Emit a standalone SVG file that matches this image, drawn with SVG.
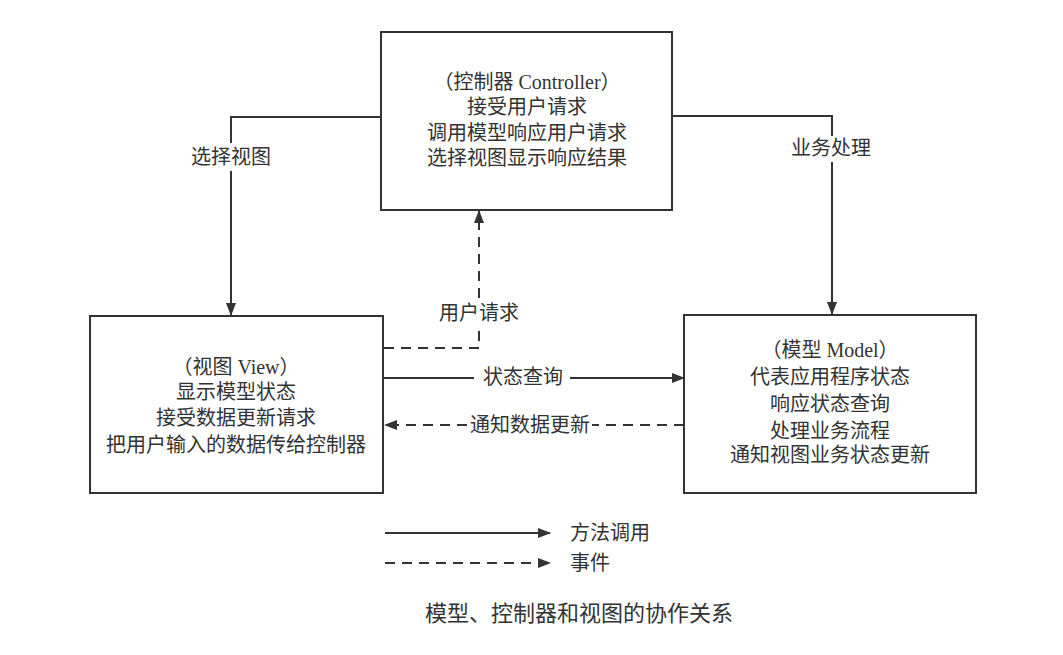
<svg xmlns="http://www.w3.org/2000/svg" width="1063" height="655" viewBox="0 0 1063 655">
<defs>
<style>
.box{fill:#fff;stroke:#333;stroke-width:2}
.ln{fill:none;stroke:#333;stroke-width:2}
.dash{stroke-dasharray:10 7}
text{font-family:"Liberation Serif","Noto Sans CJK SC",serif;font-size:20px;fill:#333;text-anchor:middle}
.lg{text-anchor:start}
.cap{font-size:22px}
</style>
<marker id="ah" markerUnits="userSpaceOnUse" markerWidth="13" markerHeight="10" refX="12" refY="5" orient="auto">
<path d="M0,0 L13,5 L0,10 z" fill="#333"/>
</marker>
</defs>
<rect width="1063" height="655" fill="#fff"/>
<g id="connectors">
<path class="ln" d="M381,117 H231 V143"/>
<path class="ln" d="M231,171 V315" marker-end="url(#ah)"/>
<path class="ln" d="M672,116 H832 V136"/>
<path class="ln" d="M832,162 V314" marker-end="url(#ah)"/>
<path class="ln dash" d="M384,348 H479 V327"/>
<path class="ln dash" d="M479,298 V211" marker-end="url(#ah)"/>
<path class="ln" d="M384,378 H474"/>
<path class="ln" d="M570,378 H684" marker-end="url(#ah)"/>
<path class="ln dash" d="M684,425 H592"/>
<path class="ln dash" d="M467,425 H385" marker-end="url(#ah)"/>
<text x="231" y="164">选择视图</text>
<text x="831" y="155">业务处理</text>
<text x="479" y="320">用户请求</text>
<text x="523" y="384">状态查询</text>
<text x="530" y="432">通知数据更新</text>
</g>
<g id="controller">
<rect class="box" x="381" y="32" width="291" height="178"/>
<text x="527" y="89">（控制器 Controller）</text>
<text x="527" y="114">接受用户请求</text>
<text x="527" y="140">调用模型响应用户请求</text>
<text x="527" y="165">选择视图显示响应结果</text>
</g>
<g id="view">
<rect class="box" x="90" y="316" width="293" height="177"/>
<text x="236" y="374">（视图 View）</text>
<text x="236" y="399">显示模型状态</text>
<text x="236" y="425">接受数据更新请求</text>
<text x="236" y="452">把用户输入的数据传给控制器</text>
</g>
<g id="model">
<rect class="box" x="684" y="315" width="292" height="178"/>
<text x="830" y="357">（模型 Model）</text>
<text x="830" y="384">代表应用程序状态</text>
<text x="830" y="411">响应状态查询</text>
<text x="830" y="438">处理业务流程</text>
<text x="830" y="462">通知视图业务状态更新</text>
</g>
<g id="legend">
<path class="ln" d="M385,533 H550" marker-end="url(#ah)"/>
<text class="lg" x="570" y="540">方法调用</text>
<path class="ln dash" d="M385,563 H550" marker-end="url(#ah)"/>
<text class="lg" x="570" y="570">事件</text>
<text class="cap" x="579" y="621">模型、控制器和视图的协作关系</text>
</g>
</svg>
